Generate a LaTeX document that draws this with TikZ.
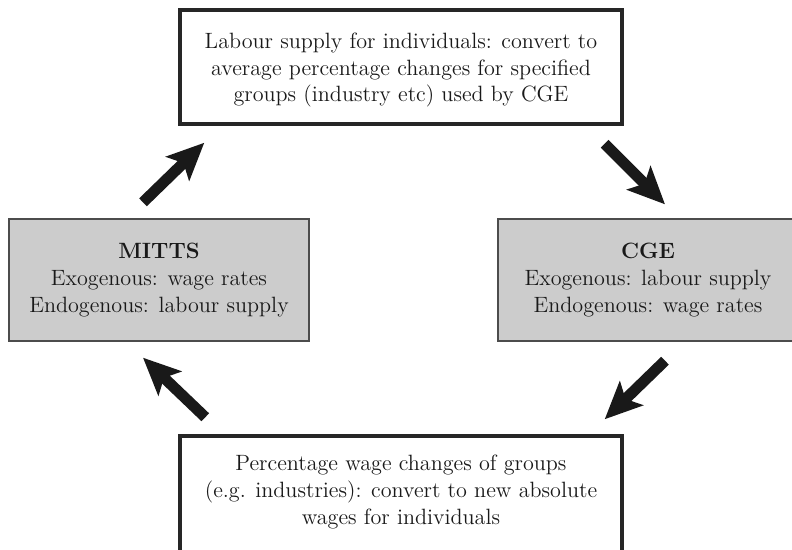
\documentclass[tikz,border=0pt]{standalone}
\usetikzlibrary{arrows.meta}

\begin{document}
\begin{tikzpicture}[x=0.02cm, y=-0.02cm,
  font=\fontsize{12.6}{15.3}\selectfont,
  box/.style={draw=black!85, line width=2pt, minimum width=8.84cm, minimum height=2.28cm, inner sep=0pt},
  model/.style={draw=black!70, line width=0.8pt, fill=black!20, minimum width=6cm, minimum height=2.44cm, inner sep=0pt},
  txt/.style={align=center, text=black!90},
  edge/.style={draw=black!90, line width=0.22cm, -{Stealth[length=0.74cm, width=0.66cm, inset=0.16cm]}},
]
\useasboundingbox (0,0) rectangle (792,549);
%top
\node[box] (top) at (401,67) {};
\node[txt] at ([yshift=-0.06cm]top) {Labour supply for individuals: convert to\\average percentage changes for specified\\groups (industry etc) used by CGE};
%models
\node[model] (mitts) at (159,280) {};
\node[txt] at (mitts) {\textbf{MITTS}\\Exogenous: wage rates\\Endogenous: labour supply};
\node[model] (cge) at (648,280) {};
\node[txt] at (cge) {\textbf{CGE}\\Exogenous: labour supply\\Endogenous: wage rates};
%bottom
\node[box, minimum height=2.4cm] (wages) at (401,496) {};
\node[txt] at ([yshift=0.08cm]wages) {Percentage wage changes of groups\\(e.g. industries): convert to new absolute\\wages for individuals};

\foreach \fr/\fx/\fy/\tonode/\tx/\ty in {
  mitts.north/-16/-16/top.south west/26/17,
  top.south east/-19/18/cge.north/17/-14,
  cge.south/17/19/wages.north east/-19/-15,
  wages.north west/27/-17/mitts.south/-16/16}
\draw[edge] ([shift={(\fx,\fy)}]\fr) -- ([shift={(\tx,\ty)}]\tonode);
\end{tikzpicture}
\end{document}
